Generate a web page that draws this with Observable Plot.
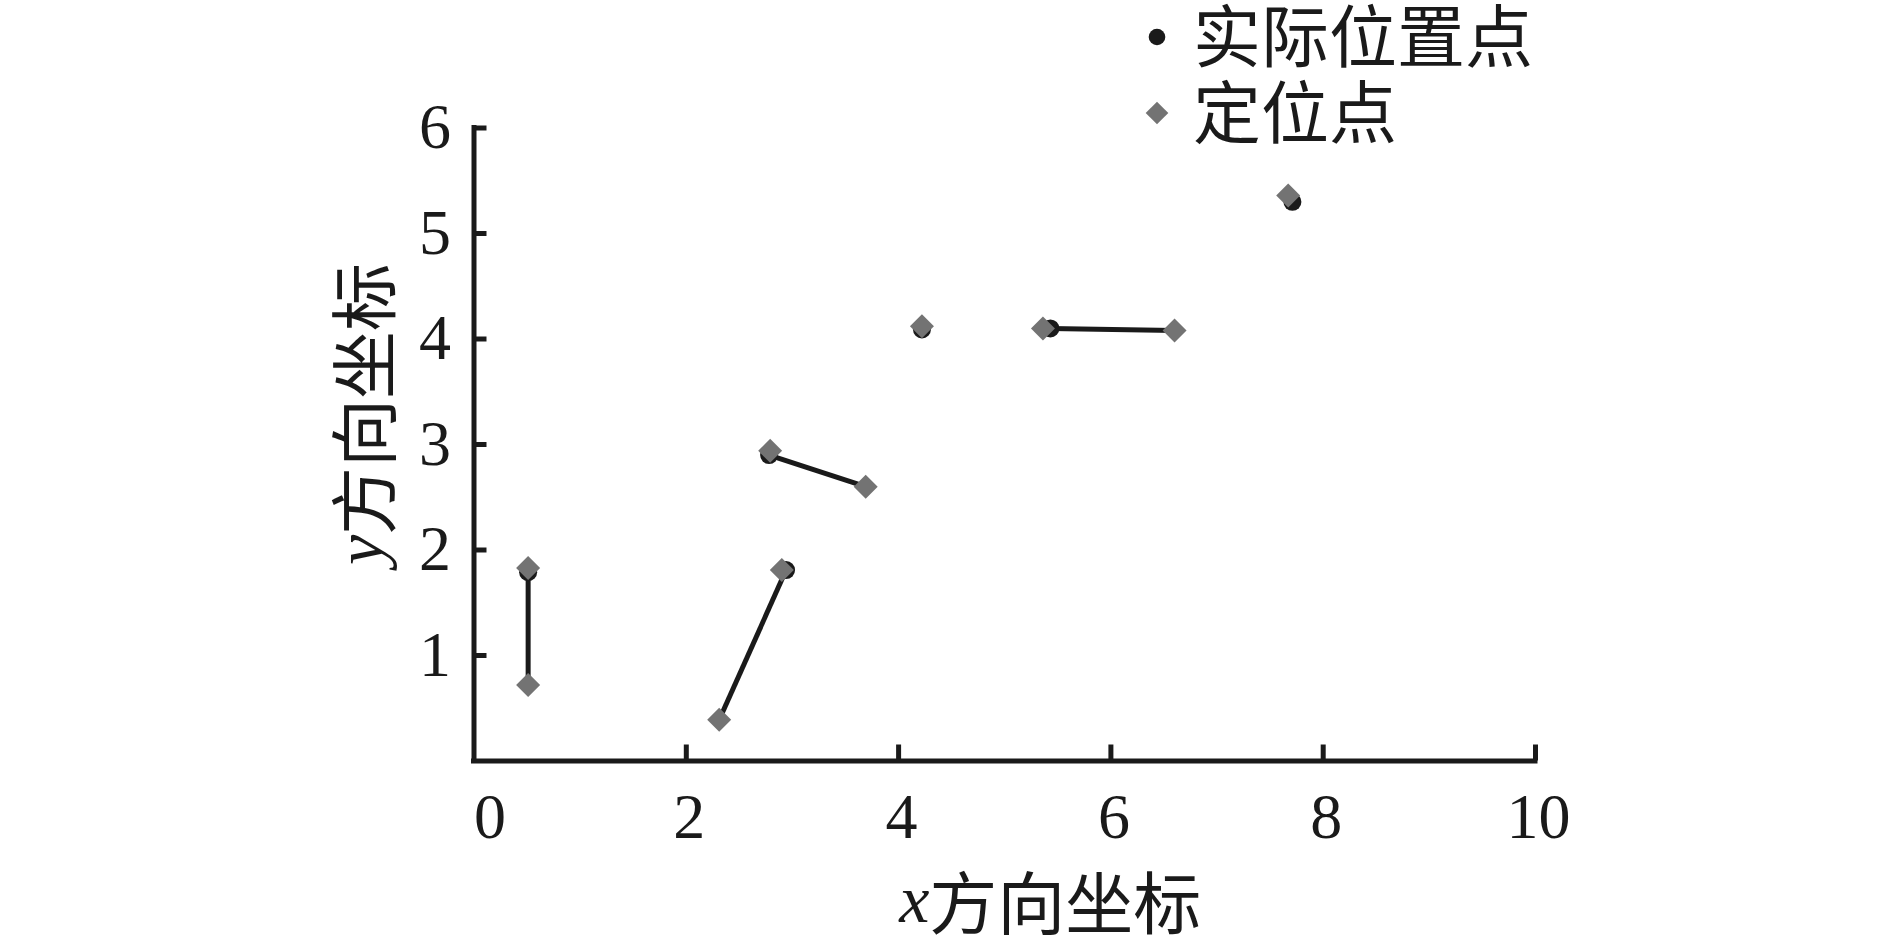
<!DOCTYPE html>
<html>
<head>
<meta charset="utf-8">
<script src="https://cdn.jsdelivr.net/npm/d3@7"></script>
<script src="https://cdn.jsdelivr.net/npm/@observablehq/plot@0.6"></script>
<style>
  html, body { margin: 0; padding: 0; background: #fff; }
  #wrap { position: relative; width: 1889px; height: 936px; overflow: hidden; }
  #legend { position: absolute; left: 1145px; top: 0; color: #1a1a1a; }
  .item { position: absolute; left: 0; display: flex; align-items: center; white-space: nowrap; height: 70px; }
  .item svg { width: 24px; height: 24px; margin-right: 24px; }
  .item span { font-family: "Noto Sans CJK SC", sans-serif; font-size: 68px; line-height: 70px; position: relative; top: -4px; }
</style>
</head>
<body>
<div id="wrap">
  <div id="chart"></div>
  <div id="legend"></div>
</div>
<script>
// ---- data ----
const actualX = [0.51, 2.94, 2.78, 4.22, 5.43, 7.71];
const actualY = [1.79, 1.81, 2.90, 4.09, 4.10, 5.30];
const locX = [0.51, 0.51, 2.31, 2.90, 2.79, 3.69, 4.22, 5.36, 6.60, 7.67];
const locY = [1.83, 0.72, 0.39, 1.81, 2.94, 2.60, 4.12, 4.10, 4.08, 5.36];
const linkFrom = [0, 1, 2, 4];   // index into actual points
const linkTo = [1, 2, 5, 8];     // index into located points
const xTickLabelFirst = [0];
const xTickLabels = [2, 4, 6, 8, 10];
const xTickMarks = [2, 4, 6, 8, 10];
const yTicks = [1, 2, 3, 4, 5, 6];
const xDomain = [0, 10];
const yDomain = [0, 6];
const legendLabels = ["实际位置点", "定位点"];
const xTitle = ["x", "方向坐标"];
const yTitle = ["y", "方向坐标"];

// ---- build tables ----
const actual = actualX.map((x, i) => ({x, y: actualY[i]}));
const located = locX.map((x, i) => ({x, y: locY[i]}));
const links = linkFrom.map((a, i) => ({
  x1: actualX[a], y1: actualY[a], x2: locX[linkTo[i]], y2: locY[linkTo[i]]
}));

const black = "#1a1a1a";
const gray = "#737373";
const serif = "Liberation Serif, Noto Sans CJK SC, serif";
const fmt = d => String(d);

const plot = Plot.plot({
  width: 1889,
  height: 936,
  marginLeft: 473.5,
  marginRight: 354,
  marginTop: 127.5,
  marginBottom: 175.5,
  style: {fontFamily: serif, color: black, background: "white"},
  x: {domain: xDomain, label: null},
  y: {domain: yDomain, label: null},
  marks: [
    Plot.axisX({ticks: xTickMarks, tickSize: -16, tickFormat: () => "", strokeWidth: 5, stroke: black, label: null}),
    Plot.axisX({ticks: xTickLabelFirst, tickSize: 0, tickPadding: 32, fontSize: 64, fill: black, tickFormat: fmt, dx: 16, label: null}),
    Plot.axisX({ticks: xTickLabels, tickSize: 0, tickPadding: 32, fontSize: 64, fill: black, tickFormat: fmt, dx: 3, label: null}),
    Plot.axisY({ticks: yTicks, tickSize: -13, tickFormat: () => "", strokeWidth: 5, stroke: black, label: null}),
    Plot.axisY({ticks: yTicks, tickSize: 0, tickPadding: 23, fontSize: 64, fill: black, tickFormat: fmt, label: null}),
    Plot.ruleY([yDomain[0]], {x1: xDomain[0], x2: xDomain[1], stroke: black, strokeWidth: 5, strokeLinecap: "square"}),
    Plot.ruleX([xDomain[0]], {y1: yDomain[0], y2: yDomain[1], stroke: black, strokeWidth: 5, strokeLinecap: "square"}),
    Plot.link(links, {x1: "x1", y1: "y1", x2: "x2", y2: "y2", stroke: black, strokeWidth: 5}),
    Plot.dot(actual, {x: "x", y: "y", r: 9, fill: black, stroke: "none"}),
    Plot.dot(located, {x: "x", y: "y", r: 10.8, symbol: "diamond2", fill: gray, stroke: "none"})
  ]
});
document.getElementById("chart").appendChild(plot);

// ---- axis titles (mixed italic latin + CJK) ----
const sx = plot.scale("x"), sy = plot.scale("y");
const cx = (sx.apply(xDomain[0]) + sx.apply(xDomain[1])) / 2;
const cy = (sy.apply(yDomain[0]) + sy.apply(yDomain[1])) / 2;
const svg = d3.select(plot);

function title(sel, parts) {
  sel.attr("font-family", serif).attr("font-size", 68).attr("fill", black)
     .attr("text-anchor", "middle").attr("dominant-baseline", "central");
  sel.append("tspan").attr("font-style", "italic").attr("font-family", "Liberation Serif").text(parts[0]);
  sel.append("tspan").attr("font-family", "Noto Sans CJK SC").text(parts[1]);
}
title(svg.append("text").attr("x", cx + 46).attr("y", sy.apply(yDomain[0]) + 138), xTitle);
title(svg.append("text").attr("transform", `translate(${sx.apply(xDomain[0]) - 114},${cy - 30}) rotate(-90)`), yTitle);

// ---- legend ----
const legend = d3.select("#legend");
const symbols = [
  '<svg viewBox="-12 -12 24 24"><circle r="8.3" fill="' + black + '"/></svg>',
  '<svg viewBox="-12 -12 24 24"><path d="M0,-11.3L11.3,0L0,11.3L-11.3,0Z" fill="' + gray + '"/></svg>'
];
legendLabels.forEach((t, i) => {
  legend.append("div").attr("class", "item")
    .style("top", (i === 0 ? 2 : 78) + "px")
    .html(symbols[i] + '<span>' + t + '</span>');
});
</script>
</body>
</html>
